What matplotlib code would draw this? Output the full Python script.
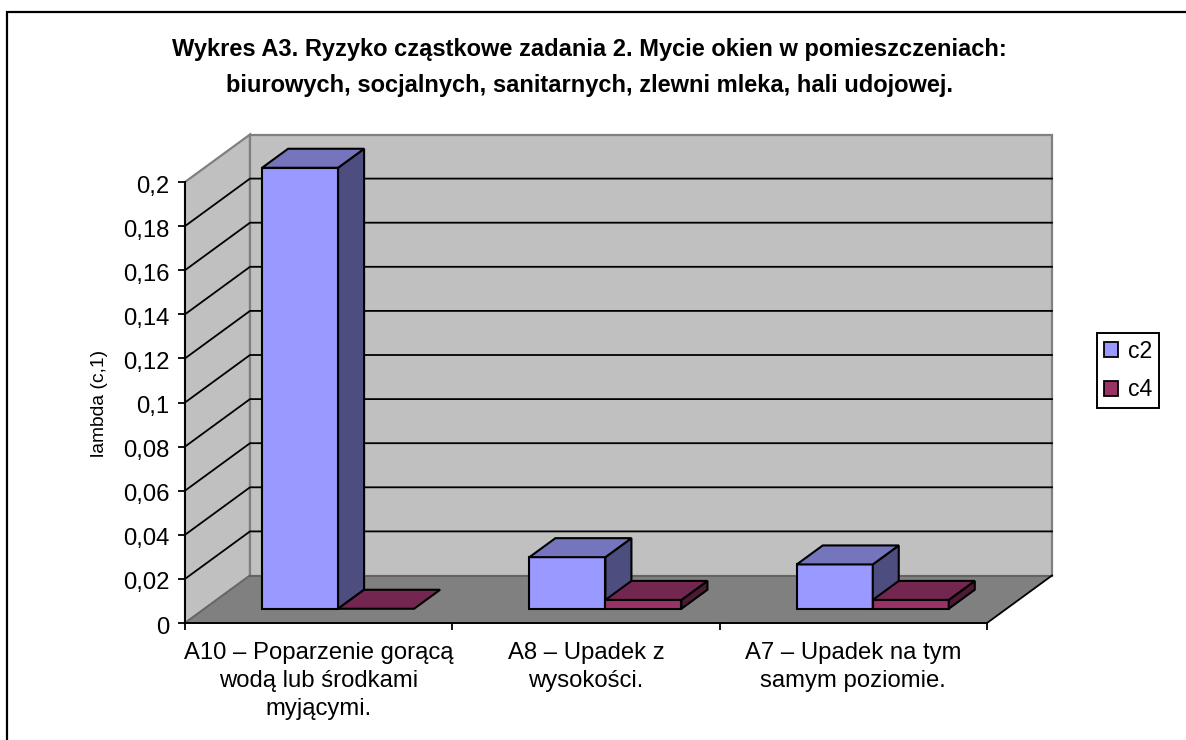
import matplotlib
matplotlib.use("Agg")
import matplotlib.pyplot as plt
from matplotlib.patches import Polygon, Patch
from matplotlib.lines import Line2D
from matplotlib.transforms import ScaledTranslation

plt.rcParams['font.family'] = ['Liberation Sans', 'DejaVu Sans']

TITLE = ("Wykres A3. Ryzyko cząstkowe zadania 2. Mycie okien w pomieszczeniach:\n"
         "biurowych, socjalnych, sanitarnych, zlewni mleka, hali udojowej.")
categories = ["A10 – Poparzenie gorącą\nwodą lub środkami\nmyjącymi.",
              "A8 – Upadek z\nwysokości.",
              "A7 – Upadek na tym\nsamym poziomie."]
c2 = [0.2, 0.0234, 0.0201]
c4 = [0.0, 0.004, 0.004]
y_ticks = [0, 0.02, 0.04, 0.06, 0.08, 0.1, 0.12, 0.14, 0.16, 0.18, 0.2]
y_tick_labels = ["0", "0,02", "0,04", "0,06", "0,08", "0,1", "0,12", "0,14", "0,16", "0,18", "0,2"]

W, H = 1186, 740
fig = plt.figure(figsize=(W / 100, H / 100), dpi=100, facecolor="white")
fig.add_artist(Line2D([6.5 / W, 6.5 / W, 1], [0, 1 - 12 / H, 1 - 12 / H], transform=fig.transFigure,
                      color="black", lw=1.6, solid_joinstyle="miter"))

ax = fig.add_axes([185 / W, (H - 623) / H, 802 / W, 441 / H])
ax.set_xlim(0, 3)
ax.set_ylim(0, 0.2)
ax.patch.set_visible(False)

DX = 65 / (802 / 3)      # depth offset in category units
DY = 47.5 / (441 / 0.2)  # depth offset in value units
BAR_W = 76 / (802 / 3)
MARGIN = 57.6 / (802 / 3)
F0, F1 = 0.30, 0.70
LW = 1.5
EDGE = "black"


def poly(pts, fc, ec=EDGE, lw=LW, z=5):
    ax.add_patch(Polygon(pts, closed=True, fc=fc, ec=ec, lw=lw, zorder=z,
                         clip_on=False, joinstyle="miter"))


# walls and floor
top, xmax = y_ticks[-1], len(categories)
poly([(0, 0), (DX, DY), (DX, top + DY), (0, top)], "#C0C0C0", "#808080", 1.6, 1)
poly([(DX, DY), (xmax + DX, DY), (xmax + DX, top + DY), (DX, top + DY)], "#C0C0C0", "#808080", 1.6, 1)
poly([(0, 0), (xmax, 0), (xmax + DX, DY), (DX, DY)], "#808080", "none", 0, 2)
ax.plot([0, DX], [0, DY], color="#666666", lw=1.3, zorder=3, clip_on=False)
ax.plot([DX, xmax + DX], [DY, DY], color="#606060", lw=1.3, zorder=3, clip_on=False)
ax.plot([xmax, xmax + DX], [0, DY], color="black", lw=1.3, zorder=3, clip_on=False)

# gridlines
for v in y_ticks[1:-1]:
    ax.plot([0, DX, xmax + DX], [v, v + DY, v + DY], color="black", lw=1.3, zorder=3,
            clip_on=False, solid_joinstyle="miter")


def bar3d(x, v, front, topc, side, z):
    x0 = x + F0 * DX
    x1 = x0 + BAR_W
    y0 = F0 * DY
    d_x, d_y = (F1 - F0) * DX, (F1 - F0) * DY
    if v > 0:
        poly([(x0, y0), (x1, y0), (x1, y0 + v), (x0, y0 + v)], front, z=z)
        poly([(x1, y0), (x1 + d_x, y0 + d_y), (x1 + d_x, y0 + d_y + v), (x1, y0 + v)], side, z=z)
    poly([(x0, y0 + v), (x1, y0 + v), (x1 + d_x, y0 + d_y + v), (x0 + d_x, y0 + d_y + v)], topc, z=z)


for i in range(len(categories)):
    bar3d(i + MARGIN, c2[i], "#9999FF", "#7575BD", "#4D4D80", 6 + i)
    bar3d(i + MARGIN + BAR_W, c4[i], "#993366", "#732650", "#4D1A33", 6 + i)

# axes
for s in ("top", "right"):
    ax.spines[s].set_visible(False)
for s in ("left", "bottom"):
    ax.spines[s].set_linewidth(1.4)
    ax.spines[s].set_zorder(4)
ax.set_yticks(y_ticks)
ax.set_yticklabels(y_tick_labels, fontsize=17.2)
ax.tick_params(axis="y", length=5, width=1.3, pad=6)
for lab in ax.get_yticklabels():
    lab.set_transform(lab.get_transform() + ScaledTranslation(0, -0.02, fig.dpi_scale_trans))
ax.set_xticks(range(len(categories) + 1))
ax.set_xticklabels([])
ax.tick_params(axis="x", which="major", length=5, width=1.3)
ax.set_xticks([i + 0.5 for i in range(len(categories))], minor=True)
ax.set_xticklabels(categories, minor=True, fontsize=17.2, linespacing=1.33)
ax.tick_params(axis="x", which="minor", length=0, pad=14)

fig.text(99 / W, 1 - 403 / H, "lambda (c,1)", rotation=90, ha="center", va="center", fontsize=13.9)
fig.text(589 / W, 1 - 67.5 / H, TITLE, ha="center", va="center", fontsize=17, fontweight="bold",
         linespacing=1.7)

leg = fig.legend(handles=[Patch(fc="#9999FF", ec="black", lw=1.3, label="c2"),
                          Patch(fc="#993366", ec="black", lw=1.3, label="c4")],
                 loc="upper left", bbox_to_anchor=(1097 / W, 1 - 333 / H), borderaxespad=0,
                 fontsize=16.6, fancybox=False, framealpha=1, edgecolor="black",
                 handlelength=0.6, handleheight=0.6, handletextpad=0.45, labelspacing=0.67,
                 borderpad=0.3)
leg.get_frame().set_linewidth(1.4)

fig.savefig("out.png", dpi=100, facecolor="white")
